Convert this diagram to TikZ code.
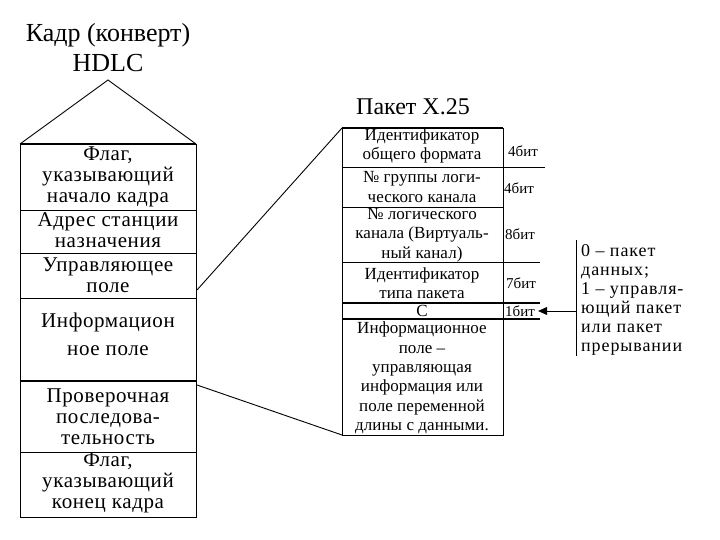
\documentclass[tikz,border=0pt]{standalone}
\usepackage{fontspec}
\setmainfont{Liberation Serif}
\newfontfamily\lsp[LetterSpace=3]{Liberation Serif}
\newfontfamily\psp[LetterSpace=0.5]{Liberation Serif}
\newfontfamily\nsp[LetterSpace=5]{Liberation Serif}
\usetikzlibrary{arrows.meta}
\begin{document}
\begin{tikzpicture}[x=1pt,y=-1pt,
  thinline/.style={line width=0.9pt},
  thickline/.style={line width=2pt},
  lcell/.style={align=center, inner sep=0, font=\lsp\fontsize{21}{21}\selectfont},
  pcell/.style={align=center, inner sep=0, font=\psp\fontsize{17}{19.4}\selectfont},
  bits/.style={anchor=west, inner sep=0, font=\fontsize{15}{16}\selectfont},
  titletext/.style={align=center, inner sep=0, font=\fontsize{26}{28}\selectfont},
  note/.style={align=left, anchor=west, inner sep=0, font=\nsp\fontsize{18}{19}\selectfont}]
\useasboundingbox (0,0) rectangle (720,540);

% ---- HDLC frame ----
\node[titletext] (t1) at (108,35) {Кадр (конверт)};
\node[titletext] (t2) at (108,63) {HDLC};
\coordinate (apex) at (108,80);
\coordinate (LTL) at (20,144);
\coordinate (LTR) at (196,144);
\coordinate (LBL) at (20,517);
\coordinate (LBR) at (196,517);
\draw[thinline] (LTL) -- (apex) -- (LTR);
\draw[thinline] (LTL) -- (LBL) -- (LBR) -- (LTR);
\draw[thickline] (LTL) -- (LTR);
\foreach \yy in {210,253,298,452} \draw[thinline] (20,\yy) -- (196,\yy);
\draw[thickline] (20,381) -- (196,381);

\node[lcell] (f1) at (108,177) {Флаг,\\указывающий\\начало кадра};
\node[lcell] (f2) at (108,230) {Адрес станции\\назначения};
\node[lcell] (f3) at (108,275.5) {Управляющее\\поле};
\node[lcell, font=\lsp\fontsize{21}{28}\selectfont] (f4) at (108,334) {Информацион\\ное поле};
\node[lcell] (f5) at (108,416.5) {Проверочная\\последова-\\тельность};
\node[lcell] (f6) at (108,483) {Флаг,\\указывающий\\конец кадра};

% ---- X.25 packet ----
\node[titletext, font=\fontsize{24}{26}\selectfont] (t3) at (413,107) {Пакет X.25};
\coordinate (PTL) at (342,128);
\coordinate (PTR) at (503,128);
\coordinate (PBL) at (342,435);
\coordinate (PBR) at (503,435);
\draw[thinline] (PTL) -- (PBL) -- (PBR) -- (PTR);
\draw[thickline] (PTL) -- (PTR);
\draw[thinline] (342,167) -- (545,167);
\draw[thinline] (342,207) -- (503,207);
\draw[thinline] (342,262) -- (540,262);
\draw[thickline] (342,303) -- (540,303);
\draw[thickline] (342,319) -- (540,319);

\node[pcell] (p1) at (422,146) {Идентификатор\\общего формата};
\node[pcell] (p2) at (422,187) {№ группы логи-\\ческого канала};
\node[pcell] (p3) at (422,235) {№ логического\\канала (Виртуаль-\\ный канал)};
\node[pcell] (p4) at (422,283) {Идентификатор\\типа пакета};
\node[pcell] (p5) at (422,311) {С};
\node[pcell] (p6) at (422,378) {Информационное\\поле –\\управляющая\\информация или\\поле переменной\\длины с данными.};

\node[bits] (b1) at (508,151) {4бит};
\node[bits] (b2) at (504,188) {4бит};
\node[bits] (b3) at (505,234) {8бит};
\node[bits] (b4) at (506,283) {7бит};
\node[bits] (b5) at (505,311) {1бит};

% ---- connectors between frame and packet ----
\coordinate (hA) at (197,290);
\coordinate (hB) at (197,385);
\draw[thinline] (hA) -- (PTL);
\draw[thinline] (hB) -- (PBL);

% ---- note ----
\coordinate (nT) at (576,240);
\coordinate (nB) at (576,356);
\coordinate (nM) at (576,311);
\draw[thinline] (nT) -- (nB);
\draw[thinline, -{Triangle[length=9pt,width=8pt]}] (nM) -- ([xshift=3pt]b5.east);
\node[note] (n1) at (581,300) {0 – пакет\\данных;\\1 – управля-\\ющий пакет\\или пакет\\прерывании};
\end{tikzpicture}
\end{document}
